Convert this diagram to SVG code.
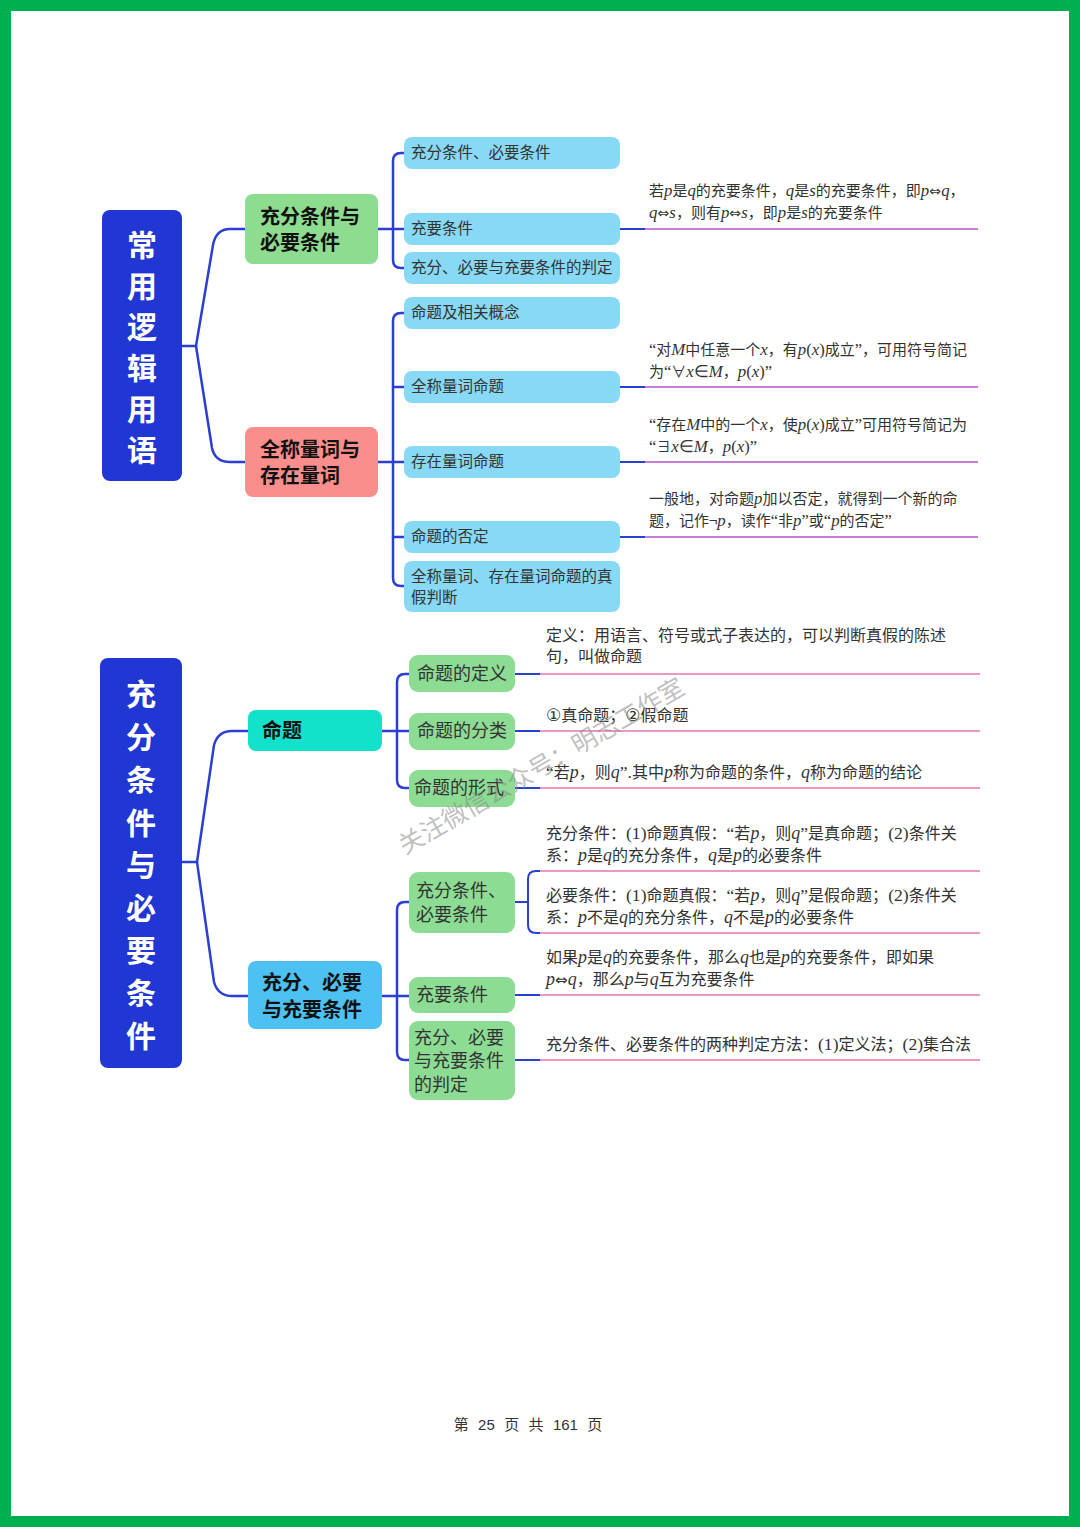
<svg xmlns="http://www.w3.org/2000/svg" width="1080" height="1527" viewBox="0 0 1080 1527">
<style>
.root{font-family:"Noto Sans CJK SC",sans-serif;font-weight:bold;font-size:30px;fill:#fff;text-anchor:middle}
.br{font-family:"Noto Sans CJK SC",sans-serif;font-weight:bold;font-size:20px;fill:#111}
.sub{font-family:"Noto Sans CJK SC",sans-serif;font-size:15.5px;fill:#333}
.sub2{font-family:"Noto Sans CJK SC",sans-serif;font-size:18px;fill:#333}
.dt{font-family:"Noto Sans CJK SC",sans-serif;font-size:15px;fill:#333}
.db{font-family:"Noto Sans CJK SC",sans-serif;font-size:16px;fill:#333}
.m{font-family:"Liberation Serif",serif;font-style:italic;font-size:1.12em}
.r{font-family:"Liberation Serif",serif;font-size:1.1em}
.a{font-family:"DejaVu Sans",sans-serif;font-size:0.95em}
.con{fill:none;stroke:#2B3FD2;stroke-width:2.5;stroke-linecap:round}
.lp{fill:none;stroke:#C97FD6;stroke-width:2}
.lk{fill:none;stroke:#EE97C3;stroke-width:2}
.lb{fill:none;stroke:#2B3FD2;stroke-width:2}
</style>
<rect x="0" y="0" width="1080" height="1527" fill="#fff"/>
<rect x="5.5" y="5.5" width="1069" height="1516" fill="none" stroke="#00B050" stroke-width="11"/>

<g id="connectors">
  <path class="con" d="M182,346 H196"/>
  <path class="con" d="M196,346 L213,245 Q216,229 230,229 H245"/>
  <path class="con" d="M196,346 L212,448 Q215,462 230,462 H245"/>
  <path class="con" d="M378,229 H404"/>
  <path class="con" d="M404,153 H401 Q393,153 393,161 V260 Q393,268 401,268 H404"/>
  <path class="con" d="M378,462 H404"/>
  <path class="con" d="M404,313 H401 Q393,313 393,321 V578 Q393,586 401,586 H404"/>
  <path class="con" d="M393,387 H404"/>
  <path class="con" d="M393,537 H404"/>
  <path class="lb" d="M620,229 H645"/><path class="lp" d="M645,229 H978"/>
  <path class="lb" d="M620,387 H645"/><path class="lp" d="M645,387 H978"/>
  <path class="lb" d="M620,462 H645"/><path class="lp" d="M645,462 H978"/>
  <path class="lb" d="M620,537 H645"/><path class="lp" d="M645,537 H978"/>

  <path class="con" d="M182,862 H197"/>
  <path class="con" d="M197,862 L214,745 Q218,731 232,731 H248"/>
  <path class="con" d="M197,862 L214,982 Q218,996 232,996 H248"/>
  <path class="con" d="M382,731 H409"/>
  <path class="con" d="M409,674 H405 Q397,674 397,682 V780 Q397,788 405,788 H409"/>
  <path class="con" d="M382,996 H409"/>
  <path class="con" d="M409,902 H405 Q397,902 397,910 V1052 Q397,1060 405,1060 H409"/>
  <path class="lb" d="M515,674 H540"/><path class="lk" d="M540,674 H980"/>
  <path class="lb" d="M515,731 H540"/><path class="lk" d="M540,731 H980"/>
  <path class="lb" d="M515,788 H540"/><path class="lk" d="M540,788 H980"/>
  <path class="lb" d="M515,902 H528"/>
  <path class="lb" d="M540,871 H536 Q528,871 528,879 V925 Q528,933 536,933 H540"/>
  <path class="lk" d="M540,871 H980"/><path class="lk" d="M540,933 H980"/>
  <path class="lb" d="M515,995 H540"/><path class="lk" d="M540,995 H980"/>
  <path class="lb" d="M515,1060 H540"/><path class="lk" d="M540,1060 H980"/>
</g>

<g id="root1">
  <rect x="102" y="210" width="80" height="271" rx="8" fill="#2137D4"/>
  <text class="root" x="142" y="256">常</text>
  <text class="root" x="142" y="297">用</text>
  <text class="root" x="142" y="338">逻</text>
  <text class="root" x="142" y="379">辑</text>
  <text class="root" x="142" y="420">用</text>
  <text class="root" x="142" y="461">语</text>
</g>
<g id="b1">
  <rect x="245" y="194" width="133" height="70" rx="8" fill="#8DDC90"/>
  <text class="br" x="260" y="224">充分条件与</text>
  <text class="br" x="260" y="250">必要条件</text>
</g>
<g id="b2">
  <rect x="245" y="427" width="133" height="70" rx="8" fill="#F98E8C"/>
  <text class="br" x="260" y="457">全称量词与</text>
  <text class="br" x="260" y="483">存在量词</text>
</g>
<g id="s1"><rect x="404" y="137" width="216" height="32" rx="8" fill="#88D9F5"/><text class="sub" x="411" y="158">充分条件、必要条件</text></g>
<g id="s2"><rect x="404" y="213" width="216" height="32" rx="8" fill="#88D9F5"/><text class="sub" x="411" y="234">充要条件</text></g>
<g id="s3"><rect x="404" y="252" width="216" height="32" rx="8" fill="#88D9F5"/><text class="sub" x="411" y="273">充分、必要与充要条件的判定</text></g>
<g id="s4"><rect x="404" y="297" width="216" height="32" rx="8" fill="#88D9F5"/><text class="sub" x="411" y="318">命题及相关概念</text></g>
<g id="s5"><rect x="404" y="371" width="216" height="32" rx="8" fill="#88D9F5"/><text class="sub" x="411" y="392">全称量词命题</text></g>
<g id="s6"><rect x="404" y="446" width="216" height="32" rx="8" fill="#88D9F5"/><text class="sub" x="411" y="467">存在量词命题</text></g>
<g id="s7"><rect x="404" y="521" width="216" height="32" rx="8" fill="#88D9F5"/><text class="sub" x="411" y="542">命题的否定</text></g>
<g id="s8"><rect x="404" y="561" width="216" height="51" rx="8" fill="#88D9F5"/><text class="sub" x="411" y="582">全称量词、存在量词命题的真</text><text class="sub" x="411" y="603">假判断</text></g>

<g id="d1">
  <text class="dt" x="649" y="196">若<tspan class="m">p</tspan>是<tspan class="m">q</tspan>的充要条件，<tspan class="m">q</tspan>是<tspan class="m">s</tspan>的充要条件，即<tspan class="m">p</tspan><tspan class="a">⇔</tspan><tspan class="m">q</tspan>，</text>
  <text class="dt" x="649" y="218"><tspan class="m">q</tspan><tspan class="a">⇔</tspan><tspan class="m">s</tspan>，则有<tspan class="m">p</tspan><tspan class="a">⇔</tspan><tspan class="m">s</tspan>，即<tspan class="m">p</tspan>是<tspan class="m">s</tspan>的充要条件</text>
</g>
<g id="d2">
  <text class="dt" x="649" y="355"><tspan class="r">“</tspan>对<tspan class="m">M</tspan>中任意一个<tspan class="m">x</tspan>，有<tspan class="m">p</tspan><tspan class="r">(</tspan><tspan class="m">x</tspan><tspan class="r">)</tspan>成立<tspan class="r">”</tspan>，可用符号简记</text>
  <text class="dt" x="649" y="377">为<tspan class="r">“</tspan>∀<tspan class="m">x</tspan><tspan class="r">∈</tspan><tspan class="m">M</tspan>，<tspan class="m">p</tspan><tspan class="r">(</tspan><tspan class="m">x</tspan><tspan class="r">)”</tspan></text>
</g>
<g id="d3">
  <text class="dt" x="649" y="430"><tspan class="r">“</tspan>存在<tspan class="m">M</tspan>中的一个<tspan class="m">x</tspan>，使<tspan class="m">p</tspan><tspan class="r">(</tspan><tspan class="m">x</tspan><tspan class="r">)</tspan>成立<tspan class="r">”</tspan>可用符号简记为</text>
  <text class="dt" x="649" y="452"><tspan class="r">“</tspan>∃<tspan class="m">x</tspan><tspan class="r">∈</tspan><tspan class="m">M</tspan>，<tspan class="m">p</tspan><tspan class="r">(</tspan><tspan class="m">x</tspan><tspan class="r">)”</tspan></text>
</g>
<g id="d4">
  <text class="dt" x="649" y="504">一般地，对命题<tspan class="m">p</tspan>加以否定，就得到一个新的命</text>
  <text class="dt" x="649" y="526">题，记作¬<tspan class="m">p</tspan>，读作<tspan class="r">“</tspan>非<tspan class="m">p</tspan><tspan class="r">”</tspan>或<tspan class="r">“</tspan><tspan class="m">p</tspan>的否定<tspan class="r">”</tspan></text>
</g>

<g id="root2">
  <rect x="100" y="658" width="82" height="410" rx="8" fill="#2137D4"/>
  <text class="root" x="141" y="705">充</text>
  <text class="root" x="141" y="748">分</text>
  <text class="root" x="141" y="791">条</text>
  <text class="root" x="141" y="834">件</text>
  <text class="root" x="141" y="876">与</text>
  <text class="root" x="141" y="919">必</text>
  <text class="root" x="141" y="961">要</text>
  <text class="root" x="141" y="1004">条</text>
  <text class="root" x="141" y="1047">件</text>
</g>
<g id="b3">
  <rect x="248" y="710" width="134" height="41" rx="8" fill="#12E2CC"/>
  <text class="br" x="262" y="738">命题</text>
</g>
<g id="b4">
  <rect x="248" y="961" width="134" height="68" rx="8" fill="#4DC2F2"/>
  <text class="br" x="262" y="990">充分、必要</text>
  <text class="br" x="262" y="1017">与充要条件</text>
</g>
<g id="t1"><rect x="409" y="655" width="106" height="37" rx="9" fill="#8CDC93"/><text class="sub2" x="417" y="680">命题的定义</text></g>
<g id="t2"><rect x="409" y="713" width="106" height="37" rx="9" fill="#8CDC93"/><text class="sub2" x="417" y="737">命题的分类</text></g>
<g id="t3"><rect x="409" y="770" width="106" height="37" rx="9" fill="#8CDC93"/><text class="sub2" x="414" y="794">命题的形式</text></g>
<g id="t4"><rect x="409" y="872" width="106" height="61" rx="9" fill="#8CDC93"/><text class="sub2" x="416" y="897">充分条件、</text><text class="sub2" x="416" y="921">必要条件</text></g>
<g id="t5"><rect x="409" y="977" width="106" height="36" rx="9" fill="#8CDC93"/><text class="sub2" x="416" y="1001">充要条件</text></g>
<g id="t6"><rect x="409" y="1021" width="106" height="79" rx="9" fill="#8CDC93"/><text class="sub2" x="414" y="1044">充分、必要</text><text class="sub2" x="414" y="1067">与充要条件</text><text class="sub2" x="414" y="1091">的判定</text></g>

<g id="e1">
  <text class="db" x="546" y="641">定义：用语言、符号或式子表达的，可以判断真假的陈述</text>
  <text class="db" x="546" y="662">句，叫做命题</text>
</g>
<g id="e2"><text class="db" x="546" y="721"><tspan font-family="DejaVu Sans" font-size="17">①</tspan>真命题；<tspan font-family="DejaVu Sans" font-size="17">②</tspan>假命题</text></g>
<g id="e3"><text class="db" x="546" y="778"><tspan class="r">“</tspan>若<tspan class="m">p</tspan>，则<tspan class="m">q</tspan><tspan class="r">”.</tspan>其中<tspan class="m">p</tspan>称为命题的条件，<tspan class="m">q</tspan>称为命题的结论</text></g>
<g id="e4">
  <text class="db" x="546" y="839">充分条件：<tspan class="r">(1)</tspan>命题真假：<tspan class="r">“</tspan>若<tspan class="m">p</tspan>，则<tspan class="m">q</tspan><tspan class="r">”</tspan>是真命题；<tspan class="r">(2)</tspan>条件关</text>
  <text class="db" x="546" y="861">系：<tspan class="m">p</tspan>是<tspan class="m">q</tspan>的充分条件，<tspan class="m">q</tspan>是<tspan class="m">p</tspan>的必要条件</text>
</g>
<g id="e5">
  <text class="db" x="546" y="901">必要条件：<tspan class="r">(1)</tspan>命题真假：<tspan class="r">“</tspan>若<tspan class="m">p</tspan>，则<tspan class="m">q</tspan><tspan class="r">”</tspan>是假命题；<tspan class="r">(2)</tspan>条件关</text>
  <text class="db" x="546" y="923">系：<tspan class="m">p</tspan>不是<tspan class="m">q</tspan>的充分条件，<tspan class="m">q</tspan>不是<tspan class="m">p</tspan>的必要条件</text>
</g>
<g id="e6">
  <text class="db" x="546" y="963">如果<tspan class="m">p</tspan>是<tspan class="m">q</tspan>的充要条件，那么<tspan class="m">q</tspan>也是<tspan class="m">p</tspan>的充要条件，即如果</text>
  <text class="db" x="546" y="985"><tspan class="m">p</tspan><tspan class="a">⇔</tspan><tspan class="m">q</tspan>，那么<tspan class="m">p</tspan>与<tspan class="m">q</tspan>互为充要条件</text>
</g>
<g id="e7"><text class="db" x="546" y="1050">充分条件、必要条件的两种判定方法：<tspan class="r">(1)</tspan>定义法；<tspan class="r">(2)</tspan>集合法</text></g>

<text x="405" y="855" transform="rotate(-30 405 855)" font-family="Noto Sans CJK SC, sans-serif" font-size="25" fill="#8a8a8a" fill-opacity="0.55">关注微信公众号：明志工作室</text>

<text x="528" y="1430" text-anchor="middle" font-family="Noto Sans CJK SC, sans-serif" font-size="15" fill="#333" word-spacing="6" xml:space="preserve">第 <tspan font-family="Liberation Sans">25</tspan> 页 共 <tspan font-family="Liberation Sans">161</tspan> 页</text>
</svg>
